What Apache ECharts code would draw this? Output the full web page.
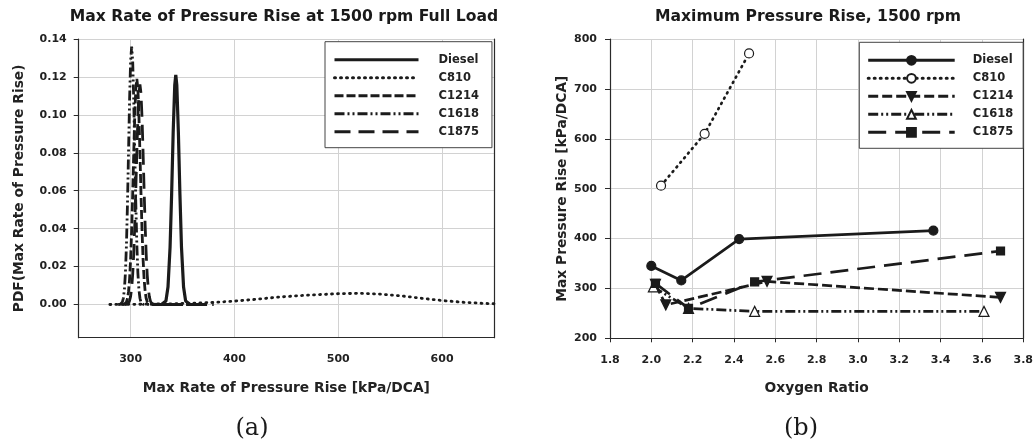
<!DOCTYPE html>
<html><head><meta charset="utf-8">
<script src="https://cdn.jsdelivr.net/npm/echarts@6/dist/echarts.min.js"></script>
<style>html,body{margin:0;padding:0;background:#fff}#c{width:1036px;height:448px}</style>
</head><body><div id="c"></div>
<script>
// ---------- shared ----------
const seriesNames = ['Diesel', 'C810', 'C1214', 'C1618', 'C1875'];
const leftTitle = 'Max Rate of Pressure Rise at 1500 rpm Full Load';
const rightTitle = 'Maximum Pressure Rise, 1500 rpm';

// ---------- panel (a): PDF curves ----------
const pdfXTicks = [300, 400, 500, 600];
const pdfYTicks = [0, 0.02, 0.04, 0.06, 0.08, 0.10, 0.12, 0.14];

const dieselPdfX = [326, 330, 334, 336, 338, 339.5, 341, 342.5, 343.5, 344.5, 346, 347.5, 349, 351, 353, 357, 362];
const dieselPdfY = [0, 0.0001, 0.0019, 0.0092, 0.0302, 0.058, 0.0908, 0.1156, 0.121, 0.1156, 0.0908, 0.058, 0.0302, 0.0092, 0.0019, 0.0001, 0];

const c810PdfX = [280, 300, 320, 340, 360, 380, 400, 420, 440, 460, 480, 500, 520, 540, 560, 580, 600, 620, 640, 650];
const c810PdfY = [0, 0.0001, 0.0002, 0.0004, 0.0007, 0.0011, 0.0018, 0.0027, 0.0038, 0.0046, 0.0052, 0.0057, 0.0059, 0.0055, 0.0046, 0.0033, 0.0021, 0.0012, 0.0006, 0.0004];

const c1214PdfX = [292, 294, 296, 297, 298, 299, 300, 301, 302, 303, 304, 305, 306, 307, 308, 309, 310, 311, 312, 313, 314, 315, 316, 318, 330, 350, 375];
const c1214PdfY = [0, 0.0002, 0.0014, 0.0032, 0.0069, 0.0134, 0.0239, 0.0391, 0.0583, 0.0797, 0.0996, 0.1138, 0.119, 0.1138, 0.0996, 0.0797, 0.0583, 0.0391, 0.0239, 0.0134, 0.0069, 0.0032, 0.0014, 0.0002, 0, 0, 0];

const c1618PdfX = [288, 290, 292, 293, 294, 295, 296, 297, 298, 299, 300, 301, 302, 303, 304, 305, 306, 307, 308, 309, 310, 312, 320, 340];
const c1618PdfY = [0, 0.0001, 0.0012, 0.0033, 0.0078, 0.0167, 0.0317, 0.0535, 0.0806, 0.1078, 0.1283, 0.136, 0.1283, 0.1078, 0.0806, 0.0535, 0.0317, 0.0167, 0.0078, 0.0033, 0.0012, 0.0001, 0, 0];

const c1875PdfX = [294, 296, 298, 299, 300, 301, 302, 303, 304, 305, 306, 307, 308, 309, 310, 311, 312, 313, 314, 315, 316, 317, 318, 319, 320, 322, 340, 380];
const c1875PdfY = [0, 0.0001, 0.0008, 0.0020, 0.0043, 0.0085, 0.0157, 0.0267, 0.0418, 0.0604, 0.0804, 0.0985, 0.1114, 0.116, 0.1114, 0.0985, 0.0804, 0.0604, 0.0418, 0.0267, 0.0157, 0.0085, 0.0043, 0.0020, 0.0008, 0.0001, 0, 0];

// ---------- panel (b): max pressure rise vs oxygen ratio ----------
const dieselOx = [2.00, 2.145, 2.425, 3.365];
const dieselRise = [345, 316, 399, 416];
const c810Ox = [2.047, 2.258, 2.473];
const c810Rise = [506, 610, 771];
const c1214Ox = [2.02, 2.07, 2.56, 3.69];
const c1214Rise = [308, 267, 314, 282];
const c1618Ox = [2.01, 2.18, 2.50, 3.61];
const c1618Rise = [303, 260, 254, 254];
const c1875Ox = [2.02, 2.18, 2.50, 3.69];
const c1875Rise = [310, 260, 313, 375];

// ---------- styling ----------
const INK = '#1b1b1b';
const FONT = 'DejaVu Sans';
const GRIDC = '#d2d2d2';
const AXC = '#2a2a2a';
const dashLeft = { Diesel: 'solid', C810: [1, 5], C1214: [9, 3], C1618: [10, 3, 2, 3, 2, 3], C1875: [16, 8] };
const dashRight = { Diesel: 'solid', C810: [1, 5], C1214: [10, 4], C1618: [10, 3, 2, 3, 2, 3], C1875: [18, 9] };

function pairs(xs, ys) { return xs.map((x, i) => [x, ys[i]]); }

const leftData = {
  Diesel: pairs(dieselPdfX, dieselPdfY),
  C810: pairs(c810PdfX, c810PdfY),
  C1214: pairs(c1214PdfX, c1214PdfY),
  C1618: pairs(c1618PdfX, c1618PdfY),
  C1875: pairs(c1875PdfX, c1875PdfY)
};
const rightData = {
  Diesel: pairs(dieselOx, dieselRise),
  C810: pairs(c810Ox, c810Rise),
  C1214: pairs(c1214Ox, c1214Rise),
  C1618: pairs(c1618Ox, c1618Rise),
  C1875: pairs(c1875Ox, c1875Rise)
};
const rightSymbols = {
  Diesel: { symbol: 'circle', size: 9, fill: INK, rot: 0 },
  C810: { symbol: 'circle', size: 9, fill: '#fff', rot: 0 },
  C1214: { symbol: 'triangle', size: 10, fill: INK, rot: 180 },
  C1618: { symbol: 'triangle', size: 10, fill: '#fff', rot: 0 },
  C1875: { symbol: 'rect', size: 8, fill: INK, rot: 0 }
};

const series = [];
seriesNames.forEach(n => {
  series.push({
    name: n, type: 'line', xAxisIndex: 0, yAxisIndex: 0,
    data: leftData[n], showSymbol: false, symbol: 'none', smooth: false,
    lineStyle: { color: INK, width: n === 'Diesel' ? 3.2 : 2.8, type: dashLeft[n], cap: n === 'C810' ? 'round' : 'butt' },
    itemStyle: { color: INK }
  });
});
seriesNames.forEach(n => {
  const s = rightSymbols[n];
  series.push({
    name: n + ' ', type: 'line', xAxisIndex: 1, yAxisIndex: 2,
    data: rightData[n], symbol: s.symbol, symbolSize: s.size, symbolRotate: s.rot,
    lineStyle: { color: INK, width: 2.7, type: dashRight[n], cap: n === 'C810' ? 'round' : 'butt' },
    itemStyle: { color: s.fill, borderColor: INK, borderWidth: 1.2 }
  });
});

const tickLabel = { fontFamily: FONT, fontWeight: 'bold', fontSize: 11, color: '#222' };
const nameStyle = { fontFamily: FONT, fontWeight: 'bold', fontSize: 13.8, color: '#222' };

function legendCfg(left, top, names, pad, iw, ih, gap, textPad, hideSymbol) {
  const cfg = {
    data: names, orient: 'vertical', left: left, top: top,
    itemWidth: iw, itemHeight: ih, itemGap: gap,
    padding: pad, borderColor: '#444', borderWidth: 1, backgroundColor: '#fff',
    lineStyle: { width: 3 },
    textStyle: { fontFamily: FONT, fontWeight: 'bold', fontSize: 11.5, color: '#222', padding: [0, 0, 0, textPad] },
    selectedMode: false
  };
  if (hideSymbol) cfg.itemStyle = { opacity: 0 };
  return cfg;
}

const option = {
  animation: false,
  backgroundColor: '#fff',
  grid: [
    { left: 78.7, top: 39, width: 415.3, height: 298.7 },
    { left: 610, top: 39, width: 416, height: 299.3 }
  ],
  xAxis: [
    {
      gridIndex: 0, type: 'value', min: 250, max: 650,
      name: 'Max Rate of Pressure Rise [kPa/DCA]', nameLocation: 'middle', nameGap: 43.5, nameTextStyle: nameStyle,
      axisLine: { onZero: false, lineStyle: { color: AXC, width: 1.2 } },
      axisTick: { show: false, customValues: pdfXTicks },
      axisLabel: { customValues: pdfXTicks, margin: 16, ...tickLabel },
      splitLine: { show: true, lineStyle: { color: GRIDC, width: 1 } }
    },
    {
      gridIndex: 1, type: 'value', min: 1.8, max: 3.8, interval: 0.2,
      name: 'Oxygen Ratio', nameLocation: 'middle', nameGap: 43.5, nameTextStyle: nameStyle,
      axisLine: { onZero: false, lineStyle: { color: AXC, width: 1.2 } },
      axisTick: { show: true, length: 4, inside: false, lineStyle: { color: AXC } },
      axisLabel: { margin: 16, formatter: v => v.toFixed(1), ...tickLabel },
      splitLine: { show: true, lineStyle: { color: GRIDC, width: 1 } }
    }
  ],
  yAxis: [
    {
      gridIndex: 0, type: 'value', min: -0.0175, max: 0.14,
      name: 'PDF(Max Rate of Pressure Rise)', nameLocation: 'middle', nameGap: 52, nameTextStyle: nameStyle,
      axisLine: { show: true, onZero: false, lineStyle: { color: AXC, width: 1.2 } },
      axisTick: { show: true, length: 5, customValues: pdfYTicks, lineStyle: { color: AXC } },
      axisLabel: { customValues: pdfYTicks, margin: 12, formatter: v => v.toFixed(2), ...tickLabel },
      splitLine: { show: true, lineStyle: { color: GRIDC, width: 1 } }
    },
    {
      gridIndex: 0, type: 'value', position: 'right', min: 0, max: 1,
      axisLine: { show: true, onZero: false, lineStyle: { color: AXC, width: 1.2 } },
      axisTick: { show: false }, axisLabel: { show: false }, splitLine: { show: false }
    },
    {
      gridIndex: 1, type: 'value', min: 200, max: 800, interval: 100,
      name: 'Max Pressure Rise [kPa/DCA]', nameLocation: 'middle', nameGap: 41, nameTextStyle: nameStyle,
      axisLine: { show: true, onZero: false, lineStyle: { color: AXC, width: 1.2 } },
      axisTick: { show: true, length: 5, lineStyle: { color: AXC } },
      axisLabel: { margin: 13, ...tickLabel },
      splitLine: { show: true, lineStyle: { color: GRIDC, width: 1 } }
    },
    {
      gridIndex: 1, type: 'value', position: 'right', min: 0, max: 1,
      axisLine: { show: true, onZero: false, lineStyle: { color: AXC, width: 1.2 } },
      axisTick: { show: false }, axisLabel: { show: false }, splitLine: { show: false }
    }
  ],
  legend: [
    legendCfg(325, 41.7, seriesNames, [12, 13, 10, 8], 84, 14, 6, 15, true),
    legendCfg(859.3, 42.3, seriesNames.map(n => n + ' '), [12, 6, 10, 7.4], 86.5, 11, 6, 13, false)
  ],
  graphic: [
    { type: 'text', x: 284, y: 17, style: { text: leftTitle, align: 'center', verticalAlign: 'middle', font: 'bold 15.6px "DejaVu Sans"', fill: '#1a1a1a' } },
    { type: 'text', x: 808, y: 17, style: { text: rightTitle, align: 'center', verticalAlign: 'middle', font: 'bold 15.6px "DejaVu Sans"', fill: '#1a1a1a' } },
    { type: 'text', x: 252, y: 428.5, style: { text: '(a)', align: 'center', verticalAlign: 'middle', font: '24px "DejaVu Serif"', fill: '#1a1a1a' } },
    { type: 'text', x: 801, y: 428.5, style: { text: '(b)', align: 'center', verticalAlign: 'middle', font: '24px "DejaVu Serif"', fill: '#1a1a1a' } }
  ],
  series: series
};

const chart = echarts.init(document.getElementById('c'), null, { renderer: 'canvas' });
chart.setOption(option);
</script>
</body></html>
